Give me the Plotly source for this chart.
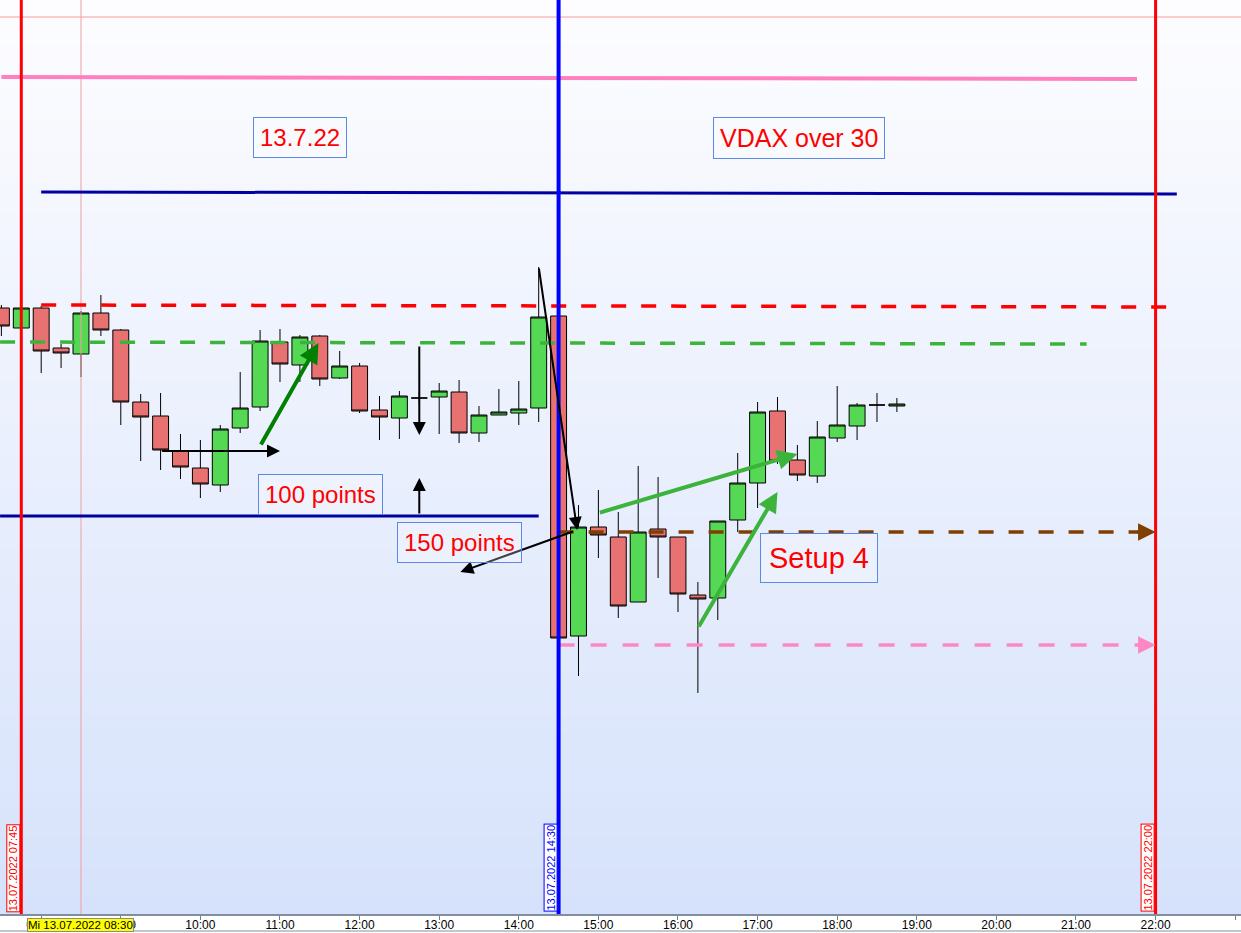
import plotly.graph_objects as go

DAY = "2022-07-13 "

# ---- 15-minute candles (DAX, 13.07.2022) ----
times = ["07:30", "07:45", "08:00", "08:15", "08:30", "08:45", "09:00", "09:15", "09:30", "09:45",
         "10:00", "10:15", "10:30", "10:45", "11:00", "11:15", "11:30", "11:45", "12:00", "12:15",
         "12:30", "12:45", "13:00", "13:15", "13:30", "13:45", "14:00", "14:15", "14:30", "14:45",
         "15:00", "15:15", "15:30", "15:45", "16:00", "16:15", "16:30", "16:45", "17:00", "17:15",
         "17:30", "17:45", "18:00", "18:15", "18:30", "18:45"]
opens = [12892, 12872, 12892, 12852, 12846, 12887, 12870, 12798, 12784, 12749,
         12732, 12715, 12772, 12793, 12858, 12835, 12864, 12822, 12834, 12790,
         12782, 12802, 12803, 12808, 12767, 12785, 12787, 12792, 12884, 12564,
         12673, 12663, 12598, 12671, 12663, 12605, 12602, 12680, 12717, 12789,
         12740, 12724, 12762, 12774, 12795, 12794]
highs = [12895, 12895, 12894, 12856, 12889, 12905, 12871, 12806, 12807, 12766,
         12760, 12775, 12828, 12870, 12871, 12865, 12865, 12849, 12837, 12804,
         12809, 12808, 12817, 12820, 12794, 12811, 12819, 12933, 12884, 12695,
         12710, 12688, 12734, 12723, 12663, 12618, 12679, 12747, 12798, 12803,
         12755, 12779, 12814, 12797, 12807, 12802]
lows = [12864, 12868, 12827, 12832, 12823, 12864, 12775, 12739, 12730, 12721,
        12702, 12708, 12767, 12789, 12818, 12818, 12814, 12821, 12787, 12760,
        12761, 12796, 12766, 12757, 12758, 12785, 12775, 12778, 12560, 12524,
        12642, 12582, 12598, 12622, 12588, 12507, 12580, 12668, 12692, 12736,
        12719, 12717, 12758, 12760, 12778, 12788]
closes = [12874, 12892, 12849, 12847, 12887, 12870, 12798, 12783, 12750, 12733,
          12716, 12771, 12792, 12859, 12836, 12863, 12821, 12834, 12789, 12783,
          12804, 12802, 12809, 12767, 12785, 12788, 12791, 12883, 12562, 12673,
          12665, 12594, 12668, 12663, 12606, 12601, 12679, 12717, 12788, 12739,
          12725, 12763, 12775, 12795, 12795, 12796]

# ---- axis ----
x_range = ["07:28:57", "23:04:23"]
y_range = [12286, 13200]
tick_hours = ["08:00", "09:00", "10:00", "11:00", "12:00", "13:00", "14:00", "15:00",
              "16:00", "17:00", "18:00", "19:00", "20:00", "21:00", "22:00", "23:00"]

# ---- vertical markers ----
vlines = ["07:45", "14:30", "22:00"]
vline_colors = ["#ff0000", "#0000ff", "#ff0000"]
vline_widths = [3, 4, 3]
cursor_time = "08:30"

# ---- horizontal drawings ----
hl_x0 = ["07:30", "08:00", "08:00", "07:29", "07:29", "14:30", "14:30"]
hl_x1 = ["21:46", "22:16", "22:11", "21:08", "14:15", "21:49", "21:49"]
hl_y0 = [13123, 13008, 12895, 12858, 12684, 12668, 12555]
hl_y1 = [13121, 13006, 12893, 12856, 12684, 12668, 12555]
hl_color = ["#ff80c0", "#0000a0", "#ff0000", "#3cb43c", "#0000a0", "#7f3f00", "#ff88c4"]
hl_width = [4, 3, 3.5, 3.5, 3, 3.5, 3.5]
hl_dash = ["solid", "solid", "15px,15px", "15px,15px", "solid", "15px,15px", "16px,16px"]
thin_line_price = 13183

# ---- arrows: tail -> head ----
ar_tx = ["09:30", "10:45", "12:45", "12:45", "14:15", "14:42", "15:00", "16:15", "21:45", "21:45"]
ar_ty = [12749, 12754, 12855, 12685, 12933, 12669, 12687, 12572, 12668, 12555]
ar_hx = ["11:00", "11:29", "12:45", "12:45", "14:44", "13:16", "17:30", "17:15", "22:00", "22:00"]
ar_hy = [12749, 12857, 12765, 12722, 12670, 12628, 12746, 12708, 12668, 12555]
ar_color = ["#000000", "#008000", "#000000", "#000000", "#000000", "#000000", "#3cb43c", "#3cb43c",
            "#7f3f00", "#ff88c4"]
ar_width = [2, 4, 2, 2, 2, 2, 4, 4, 3.5, 3.5]

# ---- text boxes ----
tb_text = ["13.7.22", "VDAX over 30", "100 points", "150 points", "Setup 4"]
tb_x = ["11:15", "17:31", "11:30:30", "13:15", "17:46"]
tb_y = [13063, 13062, 12706, 12658, 12642]
tb_size = [24, 25, 24, 24, 29]
tb_pad = [6, 6, 6, 6, 8]

fig = go.Figure()
fig.add_trace(go.Candlestick(
    x=[DAY + t for t in times], open=opens, high=highs, low=lows, close=closes,
    increasing=dict(fillcolor="#55d955", line=dict(color="#000000", width=1)),
    decreasing=dict(fillcolor="#e87272", line=dict(color="#000000", width=1)),
    whiskerwidth=0, hoverinfo="skip", showlegend=False,
))

shapes = []
n = 60
top = (253, 253, 255)
bot = (214, 226, 251)
for i in range(n):
    f = (i + 0.5) / n
    c = tuple(round(top[k] + (bot[k] - top[k]) * f) for k in range(3))
    shapes.append(dict(type="rect", xref="paper", yref="paper", x0=0, x1=1,
                       y0=1 - (i + 1) / n, y1=1 - i / n + 0.001, layer="below",
                       line=dict(width=0), fillcolor="rgb(%d,%d,%d)" % c))
shapes.append(dict(type="line", xref="paper", yref="y", x0=0, x1=1,
                   y0=thin_line_price, y1=thin_line_price, line=dict(color="#ff9a9a", width=1)))
shapes.append(dict(type="line", xref="x", yref="paper", x0=DAY + cursor_time, x1=DAY + cursor_time,
                   y0=0, y1=1, line=dict(color="#f0a0a0", width=1)))
for x0, x1, y0, y1, c, w, d in zip(hl_x0, hl_x1, hl_y0, hl_y1, hl_color, hl_width, hl_dash):
    shapes.append(dict(type="line", xref="x", yref="y", x0=DAY + x0, x1=DAY + x1, y0=y0, y1=y1,
                       line=dict(color=c, width=w, dash=d)))
for t, c, w in zip(vlines, vline_colors, vline_widths):
    shapes.append(dict(type="line", xref="x", yref="paper", x0=DAY + t, x1=DAY + t, y0=0, y1=1,
                       line=dict(color=c, width=w)))
shapes.append(dict(type="line", xref="paper", yref="paper", x0=0, x1=1, y0=-0.0186, y1=-0.0186,
                   line=dict(color="#8090a0", width=1)))

annotations = []
for tx, ty, hx, hy, c, w in zip(ar_tx, ar_ty, ar_hx, ar_hy, ar_color, ar_width):
    annotations.append(dict(x=DAY + hx, y=hy, ax=DAY + tx, ay=ty, xref="x", yref="y",
                            axref="x", ayref="y", text="", showarrow=True, arrowhead=2,
                            arrowsize=1.3 if w < 3 else 1.0, arrowwidth=w, arrowcolor=c))
for txt, x, y, s, p in zip(tb_text, tb_x, tb_y, tb_size, tb_pad):
    annotations.append(dict(x=DAY + x, y=y, xref="x", yref="y", text=txt, showarrow=False,
                            font=dict(family="Liberation Sans, Arial", size=s, color="#ff0000"),
                            bordercolor="#5a8ae6", borderwidth=1, borderpad=p,
                            bgcolor="rgba(255,255,255,0.25)"))
for t, c in zip(vlines, vline_colors):
    annotations.append(dict(x=DAY + t, y=0, xref="x", yref="paper", xanchor="right", yanchor="bottom",
                            xshift=-1, yshift=2, text="13.07.2022 " + t, textangle=-90,
                            showarrow=False, font=dict(family="Liberation Sans, Arial", size=11, color=c),
                            bgcolor="#ffffff", bordercolor=c, borderwidth=1, borderpad=0))
annotations.append(dict(x=DAY + cursor_time, y=0, xref="x", yref="paper", yanchor="top", yshift=-4,
                        text="Mi 13.07.2022 " + cursor_time, showarrow=False,
                        font=dict(family="Liberation Sans, Arial", size=11.5, color="#000000"),
                        bgcolor="#ffff00", bordercolor="#8a8a8a", borderwidth=1, borderpad=0))

fig.update_layout(
    width=1241, height=933,
    margin=dict(l=0, r=0, t=0, b=19),
    paper_bgcolor="#ffffff", plot_bgcolor="#eef2fd",
    boxgap=0.2, boxgroupgap=0,
    shapes=shapes, annotations=annotations,
    xaxis=dict(type="date", range=[DAY + x_range[0], DAY + x_range[1]],
               tickvals=[DAY + h for h in tick_hours], ticktext=tick_hours,
               ticks="outside", ticklen=4, tickcolor="#708090", showgrid=False,
               ticklabelstandoff=-5,
               showline=True, linecolor="#7f8fa0", linewidth=2, automargin=False,
               tickfont=dict(family="Liberation Sans, Arial", size=12, color="#000000"),
               rangeslider=dict(visible=False), fixedrange=True),
    yaxis=dict(range=y_range, visible=False, showgrid=False, fixedrange=True, automargin=False),
)

fig.write_html("out.html", config={"displayModeBar": False},
               post_script="document.body.style.margin='0';document.body.style.overflow='hidden';")
